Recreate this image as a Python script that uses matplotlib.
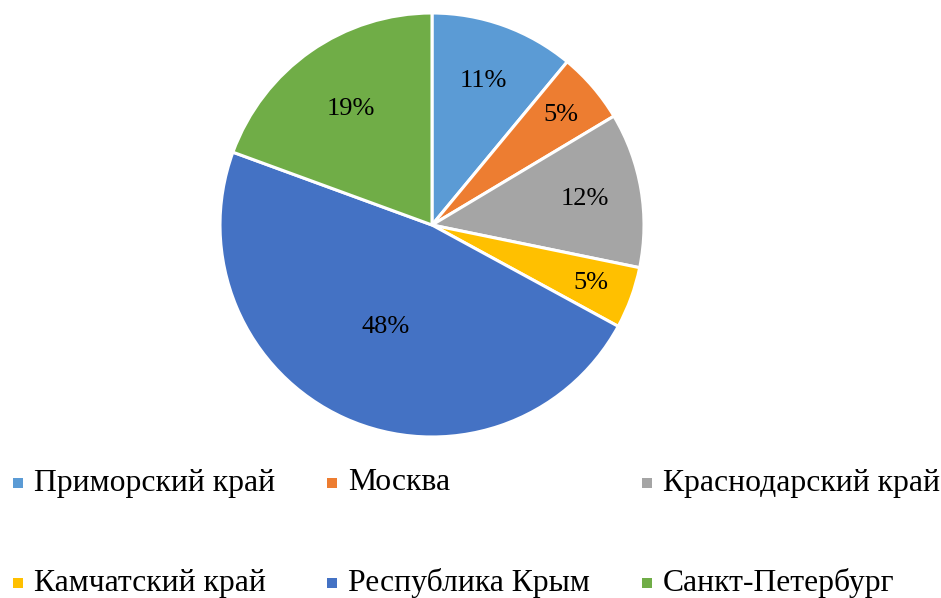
import matplotlib
matplotlib.use("Agg")
import matplotlib.pyplot as plt
import numpy as np
from matplotlib.patches import Rectangle

categories = ["Приморский край", "Москва", "Краснодарский край",
              "Камчатский край", "Республика Крым", "Санкт-Петербург"]
values = [11.0, 5.4, 11.8, 4.7, 47.6, 19.4]
colors = ["#5B9BD5", "#ED7D31", "#A5A5A5", "#FFC000", "#4472C4", "#70AD47"]
label_dist = [0.72, 0.80, 0.73, 0.80, 0.53, 0.67]

plt.rcParams['font.family'] = ['Liberation Serif', 'DejaVu Serif']

W, H = 941, 598
fig = plt.figure(figsize=(W / 100, H / 100), dpi=100)
ax = fig.add_axes([0, 0, 1, 1])
ax.set_xlim(0, W)
ax.set_ylim(0, H)
ax.set_aspect('equal')
ax.axis('off')

cx, cy, R = 432, H - 225, 212
wedges, texts, autotexts = ax.pie(
    values, colors=colors, startangle=90, counterclock=False,
    center=(cx, cy), radius=R, autopct='%.0f%%', pctdistance=0.72,
    wedgeprops=dict(edgecolor='white', linewidth=2.2),
    textprops=dict(fontsize=19, color='black'))
ax.set_xlim(0, W)
ax.set_ylim(0, H)

for w, t, d in zip(wedges, autotexts, label_dist):
    ang = np.deg2rad((w.theta1 + w.theta2) / 2)
    t.set_position((cx + d * R * np.cos(ang), cy + d * R * np.sin(ang)))

# legend
col_x = [18, 332, 647]
row_y = [483, 583]
for i, (lab, c) in enumerate(zip(categories, colors)):
    r, k = divmod(i, 3)
    x = col_x[k]
    y = H - row_y[r]
    ax.add_patch(Rectangle((x - 5, y - 5), 10, 10, facecolor=c, edgecolor='none'))
    ax.text(x + 16, y, lab, fontsize=22.8, va='center', ha='left')

fig.savefig("out.png", dpi=100)
